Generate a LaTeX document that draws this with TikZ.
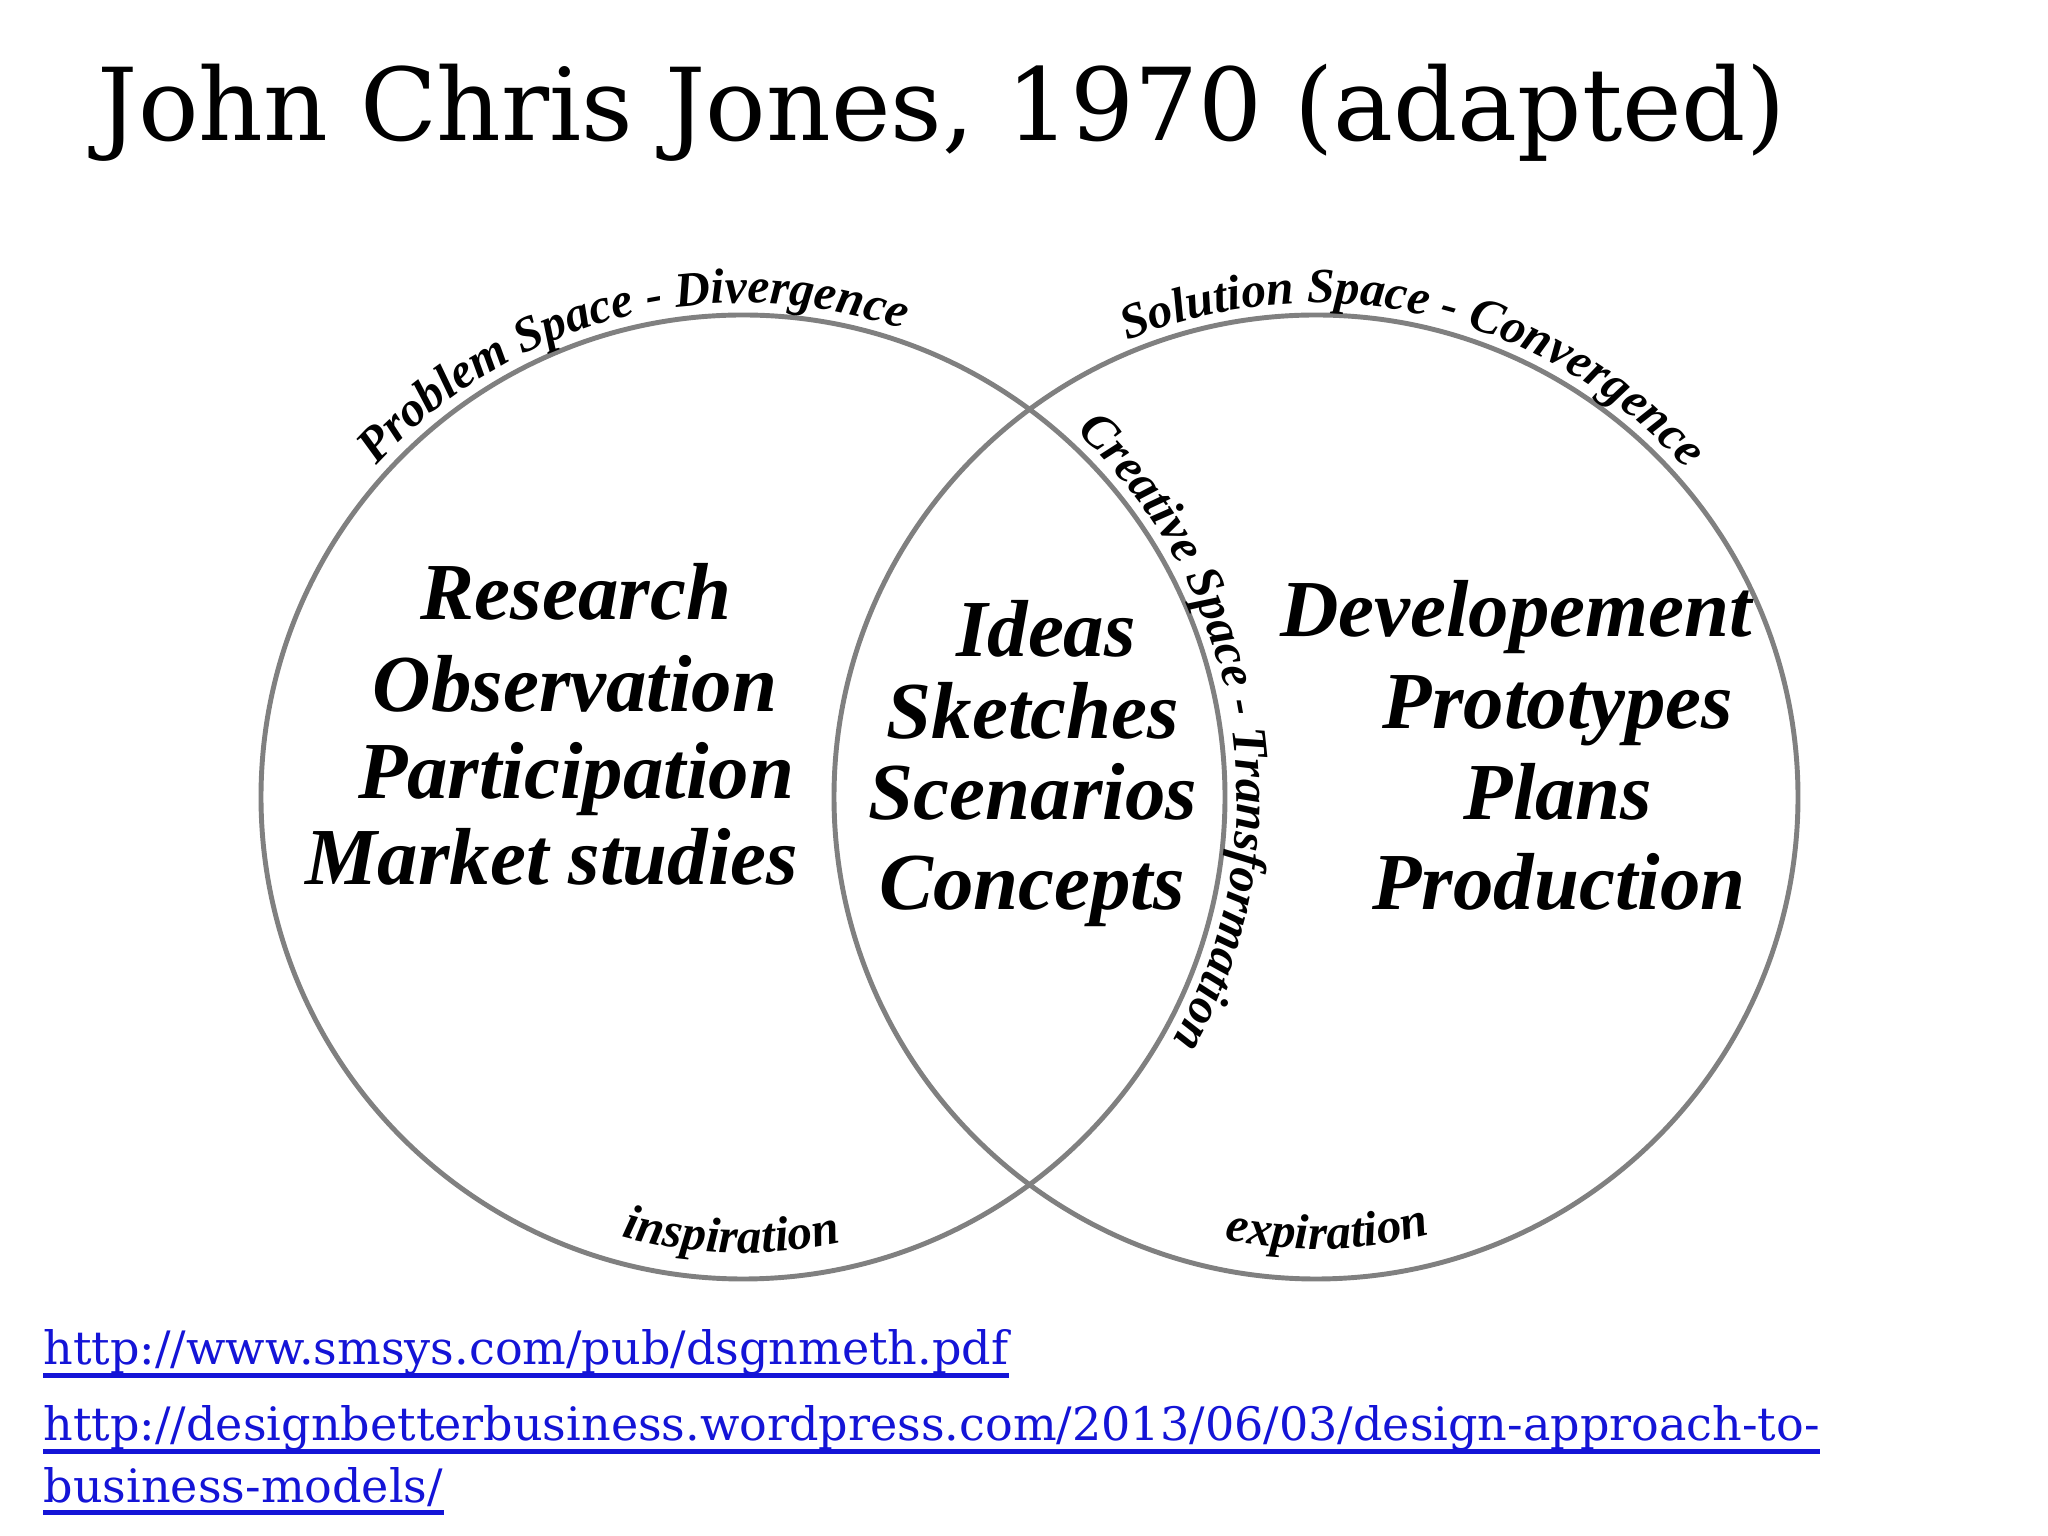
\documentclass[tikz,border=0pt]{standalone}
\usepackage{fontspec}
\setmainfont{Liberation Serif}
\newfontfamily\slabfont{DejaVu Serif}
\usetikzlibrary{decorations.text}

\definecolor{linkblue}{RGB}{20,20,215}
\newcommand\wordfont{\fontsize{23}{27}\selectfont\bfseries\itshape}
\newcommand\arcfont{\fontsize{14}{16}\selectfont\bfseries\itshape}

\begin{document}
\begin{tikzpicture}[x=0.01cm, y=0.01cm,
    word/.style={anchor=base, inner sep=0pt, font=\wordfont},
    link/.style={anchor=base west, inner sep=0pt, text=linkblue, font=\slabfont\fontsize{13.1}{15}\selectfont},
    ring/.style={draw=black!50, line width=1.4pt},
    arclabel/.style={decorate, decoration={text along path, text align=center, text={|\arcfont|#1}}}]
    \useasboundingbox[fill=white] (0,0) rectangle (2048,1536);
    \def\r{482}

    % Title
    \node[anchor=base west, inner sep=0pt, font=\slabfont\fontsize{28.6}{34}\selectfont] (title) at (97,1395) {John Chris Jones, 1970 (adapted)};

    % The two spaces
    \draw[ring] (743,739) circle[radius=\r];
    \draw[ring] (1316,739) circle[radius=\r];

    % Labels round the rims
    \path[arclabel={Problem Space - Divergence}] (743,739) ++(138:494) arc[start angle=138, end angle=71, radius=494];
    \path[arclabel={Solution Space - Convergence}] (1316,739) ++(112:494) arc[start angle=112, end angle=42, radius=494];
    \path[arclabel={Creative Space - Transformation}] (743,739) ++(48:494) arc[start angle=48, end angle=-30, radius=494];
    \path[arclabel={inspiration}] (743,739) ++(248:456) arc[start angle=248, end angle=289, radius=456];
    \path[arclabel={expiration}] (1316,739) ++(251:452) arc[start angle=251, end angle=292, radius=452];

    % Problem space
    \node[word] (research) at (576,916) {Research};
    \node[word] (observation) at (575,824) {Observation};
    \node[word] (participation) at (576,737) {Participation};
    \node[word] (market) at (552,651) {Market studies};

    % Creative space
    \node[word] (ideas) at (1046,879) {Ideas};
    \node[word] (sketches) at (1033,797) {Sketches};
    \node[word] (scenarios) at (1033,716) {Scenarios};
    \node[word] (concepts) at (1032,626) {Concepts};

    % Solution space
    \node[word] (developement) at (1516,899) {Developement};
    \node[word] (prototypes) at (1558,807) {Prototypes};
    \node[word] (plans) at (1558,716) {Plans};
    \node[word] (production) at (1559,626) {Production};

    % Sources
    \node[link] (url1) at (43,171) {http://www.smsys.com/pub/dsgnmeth.pdf};
    \node[link] (url2) at (43,95) {http://designbetterbusiness.wordpress.com/2013/06/03/design-approach-to-};
    \node[link] (url3) at (43,34) {business-models/};
    \foreach \u in {url1,url2,url3}
        \draw[linkblue, line width=1.3pt] ([yshift=-3pt]\u.base west) -- ([yshift=-3pt]\u.base east);
\end{tikzpicture}
\end{document}
